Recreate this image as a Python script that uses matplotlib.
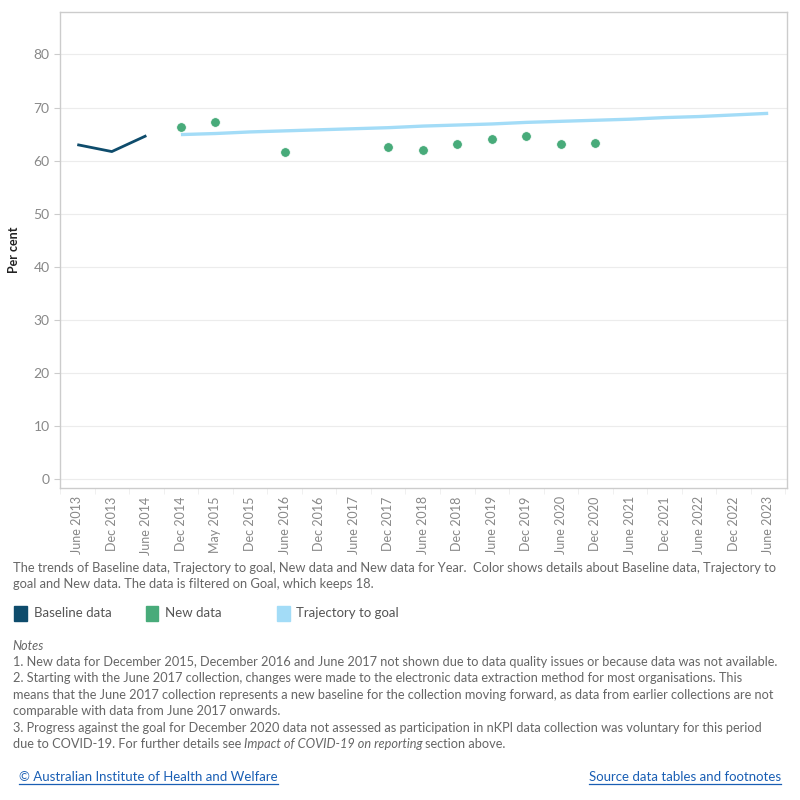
import numpy as np
import matplotlib.pyplot as plt

# Categories on the x axis
periods = ["June 2013", "Dec 2013", "June 2014", "Dec 2014", "May 2015", "Dec 2015",
           "June 2016", "Dec 2016", "June 2017", "Dec 2017", "June 2018", "Dec 2018",
           "June 2019", "Dec 2019", "June 2020", "Dec 2020", "June 2021", "Dec 2021",
           "June 2022", "Dec 2022", "June 2023"]

# Baseline data (per cent)
baseline_periods = ["June 2013", "Dec 2013", "June 2014"]
baseline_values = [63.0, 61.7, 64.7]

# New data (per cent)
new_periods = ["Dec 2014", "May 2015", "June 2016", "Dec 2017", "June 2018", "Dec 2018",
               "June 2019", "Dec 2019", "June 2020", "Dec 2020"]
new_values = [66.4, 67.2, 61.7, 62.6, 62.0, 63.1, 64.0, 64.6, 63.1, 63.3]

# Trajectory to goal (per cent)
traj_periods = periods[3:]
traj_values = [64.9, 65.1, 65.4, 65.6, 65.8, 66.0, 66.2, 66.5, 66.7, 66.9,
               67.2, 67.4, 67.6, 67.8, 68.1, 68.3, 68.6, 68.9]

c_base = "#0e4c6c"
c_new = "#48ab7a"
c_traj = "#a3dcf7"
c_text = "#666666"

plt.rcParams["font.family"] = ["Lato", "DejaVu Sans"]

pos = {p: i for i, p in enumerate(periods)}

fig = plt.figure(figsize=(8, 8), dpi=100)
ax = fig.add_axes([0.075, 0.39, 0.909, 0.595])

ax.plot([pos[p] for p in traj_periods], traj_values, color=c_traj, lw=2.4,
        solid_capstyle="butt", zorder=2)
ax.plot([pos[p] for p in baseline_periods], baseline_values, color=c_base, lw=2.0,
        solid_capstyle="butt", zorder=3)
ax.plot([pos[p] for p in new_periods], new_values, "o", color=c_new, ms=7,
        mec="white", mew=0.6, zorder=4)

ax.set_xlim(-0.5, len(periods) - 0.45)
ax.set_ylim(-1.7, 88)
ax.set_yticks(range(0, 81, 10))
ax.grid(axis="y", color="#ececec", lw=0.8)
ax.set_axisbelow(True)
for s in ax.spines.values():
    s.set_color("#cccccc")
    s.set_linewidth(1.0)

ax.set_xticks(range(len(periods)))
ax.set_xticklabels(periods, rotation=90, fontsize=9, color="#888888")
ax.set_xticks(np.arange(len(periods) + 1) - 0.5, minor=True)
ax.tick_params(axis="x", which="major", length=0, pad=6)
ax.tick_params(axis="x", which="minor", length=4, color="#eeeeee")
ax.tick_params(axis="y", labelsize=10, labelcolor="#888888", color="#cccccc", length=4)
ax.set_ylabel("Per cent", fontsize=9, fontweight="bold", color="#222222")
ax.yaxis.set_label_coords(-0.055, 0.5)

caption = ("The trends of Baseline data, Trajectory to goal, New data and New data for Year.  "
           "Color shows details about Baseline data, Trajectory to\n"
           "goal and New data. The data is filtered on Goal, which keeps 18.")
fig.text(0.016, 0.298, caption, fontsize=9.3, color=c_text, va="top", linespacing=1.45)

legend_items = [("Baseline data", c_base, 0.018), ("New data", c_new, 0.182),
                ("Trajectory to goal", c_traj, 0.346)]
for label, col, x in legend_items:
    fig.patches.append(plt.Rectangle((x, 0.224), 0.016, 0.018, transform=fig.transFigure,
                                     color=col, figure=fig))
    fig.text(x + 0.024, 0.2335, label, fontsize=9.5, color="#555555", va="center")

fs_notes = 9.18
fig.text(0.016, 0.193, "Notes", fontsize=fs_notes, color=c_text, style="italic", va="center")
notes = [
    "1. New data for December 2015, December 2016 and June 2017 not shown due to data quality issues or because data was not available.",
    "2. Starting with the June 2017 collection, changes were made to the electronic data extraction method for most organisations. This",
    "means that the June 2017 collection represents a new baseline for the collection moving forward, as data from earlier collections are not",
    "comparable with data from June 2017 onwards.",
    "3. Progress against the goal for December 2020 data not assessed as participation in nKPI data collection was voluntary for this period",
]
for i, line in enumerate(notes):
    fig.text(0.016, 0.1725 - i * 0.0205, line, fontsize=fs_notes, color=c_text, va="center")
y_last = 0.1725 - 5 * 0.0205
t1 = fig.text(0.016, y_last, "due to COVID-19. For further details see ", fontsize=fs_notes,
              color=c_text, va="center")
fig.canvas.draw()
x2 = t1.get_window_extent().x1 / fig.bbox.width
t2 = fig.text(x2, y_last, "Impact of COVID-19 on reporting", fontsize=fs_notes, color=c_text,
              va="center", style="italic")
fig.canvas.draw()
x3 = t2.get_window_extent().x1 / fig.bbox.width
fig.text(x3 + 0.002, y_last, "section above.", fontsize=fs_notes, color=c_text, va="center")

link_color = "#1a5fb4"
for x, txt, ha in [(0.024, "\u00a9 Australian Institute of Health and Welfare", "left"),
                   (0.976, "Source data tables and footnotes", "right")]:
    t = fig.text(x, 0.029, txt, fontsize=9.5, color=link_color, ha=ha, va="center")
    fig.canvas.draw()
    b = t.get_window_extent()
    y = b.y0 / fig.bbox.height - 0.002
    fig.add_artist(plt.Line2D([b.x0 / fig.bbox.width, b.x1 / fig.bbox.width], [y, y],
                              transform=fig.transFigure, color=link_color, lw=0.9))

fig.savefig("out.png", dpi=100)
